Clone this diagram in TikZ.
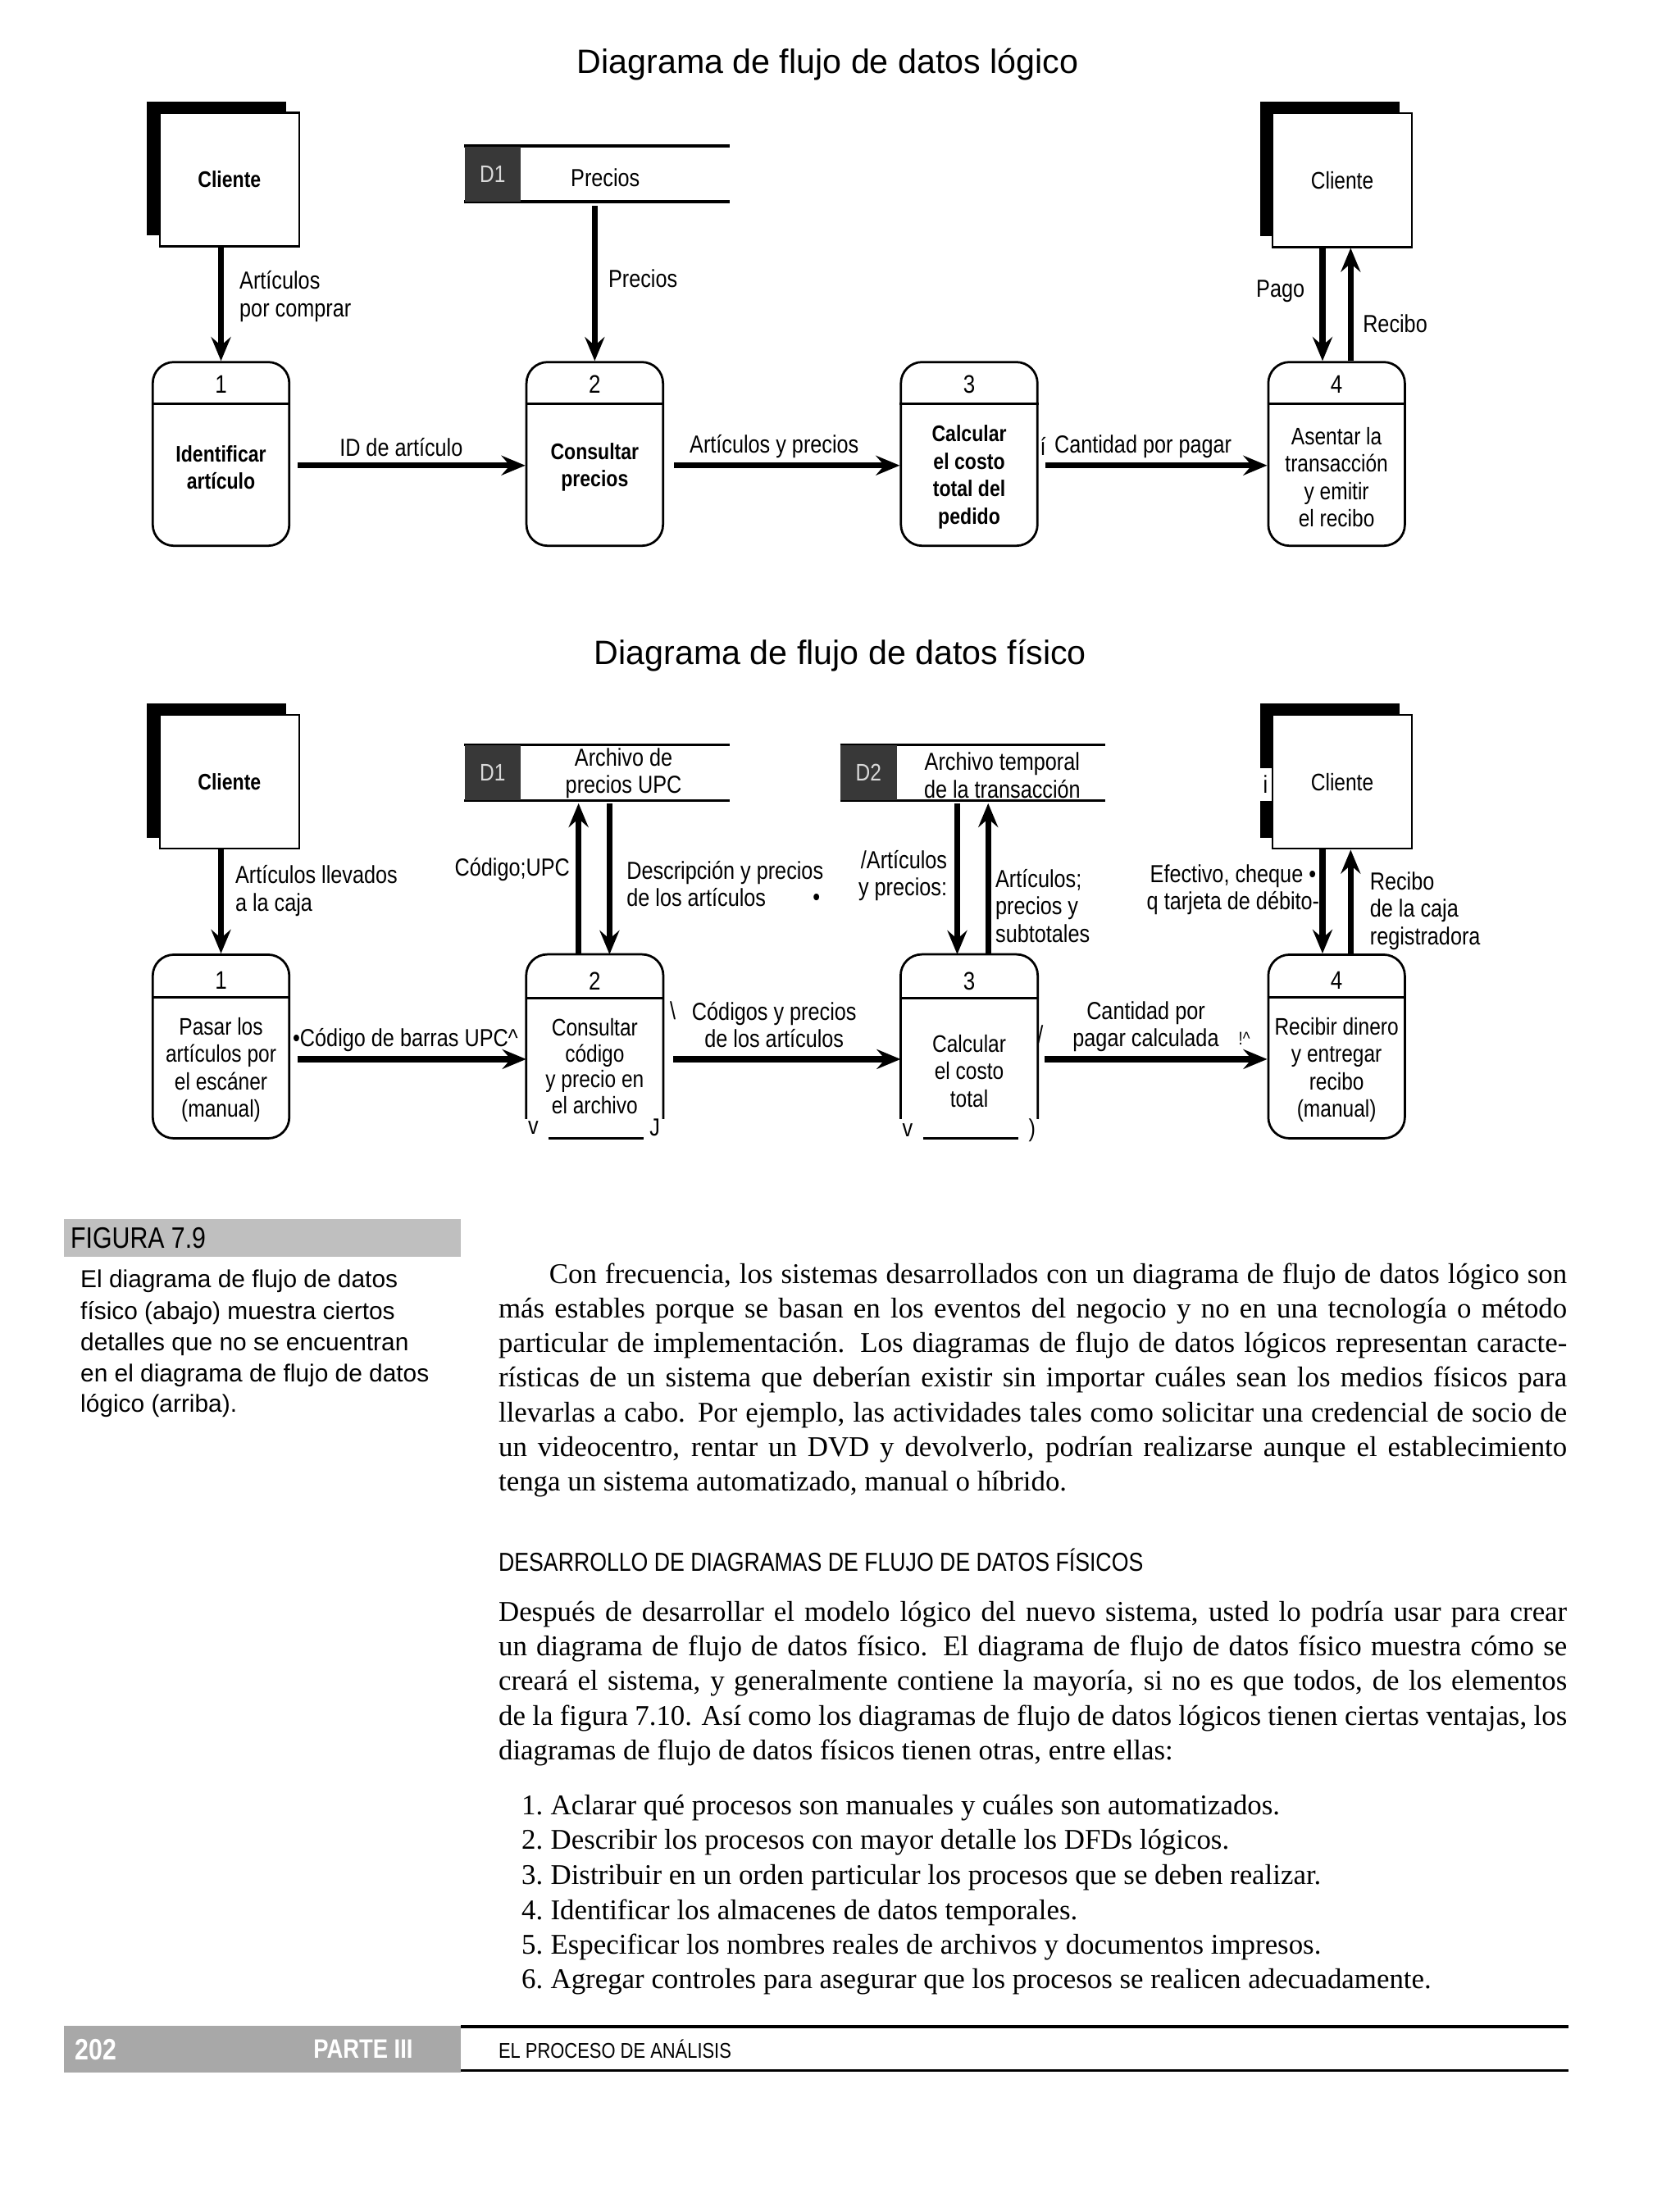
\documentclass[tikz,border=0pt]{standalone}
\usepackage{fontspec}
\setmainfont{Liberation Serif}
\newfontfamily\arialsf{Liberation Sans}
\newfontfamily\narrowsf{Liberation Sans}[FakeStretch=0.84]
\usetikzlibrary{arrows.meta}
\begin{document}
\begin{tikzpicture}[x=1pt,y=-1pt,
  proc/.style={draw, line width=1.6pt, rounded corners=15pt, minimum width=97pt, minimum height=130.5pt, inner sep=0pt},
  procnd/.style={minimum width=97pt, minimum height=130.5pt, inner sep=0pt},
  ent/.style={draw, line width=1.4pt, fill=white, minimum width=99pt, minimum height=95pt, inner sep=0pt},
  shad/.style={fill=black, minimum width=99pt, minimum height=95pt, inner sep=0pt},
  store/.style={minimum width=188pt, minimum height=39pt, inner sep=0pt},
  storeid/.style={fill=black!78, text=white!85!black, minimum width=40pt, minimum height=39pt, inner sep=0pt, font=\narrowsf\fontsize{17}{19}\selectfont},
  dflow/.style={line width=4.2pt, -{Stealth[length=17pt,width=14pt,inset=6pt]}},
  lbl/.style={font=\narrowsf\fontsize{17.5}{19.5}\selectfont, inner sep=0pt, align=center},
  num/.style={font=\narrowsf\fontsize{18}{20}\selectfont, inner sep=0pt},
  ptb/.style={font=\narrowsf\bfseries\fontsize{16}{19.5}\selectfont, inner sep=0pt, align=center},
  ptr/.style={font=\narrowsf\fontsize{17}{19.5}\selectfont, inner sep=0pt, align=center},
  divl/.style={line width=1.4pt},
  body/.style={anchor=base west, inner sep=0pt, font=\fontsize{20.3}{24.5}\selectfont},
  capt/.style={anchor=base west, inner sep=0pt, font=\arialsf\fontsize{17.4}{22}\selectfont},
  ttl/.style={font=\arialsf\fontsize{24}{28}\selectfont, inner sep=0pt}
]
\useasboundingbox[fill=white] (0,0) rectangle (1193,1568);

% ================= TOP: logical DFD =================
\node[ttl] (t1) at (588,46) {Diagrama de flujo de datos lógico};

% entities
\node[shad] (s1) at (154,119.5) {};
\node[ent, font=\narrowsf\bfseries\fontsize{16}{19}\selectfont] (c1) at (163,127.5) {Cliente};
\node[shad] (s2) at (945,120) {};
\node[ent, font=\narrowsf\fontsize{17}{19}\selectfont] (c2) at (953.5,128) {Cliente};

% store D1
\node[store] (d1) at (424,123.5) {};
\draw[line width=2pt] (d1.north west) -- (d1.north east);
\draw[line width=2pt] (d1.south west) -- (d1.south east);
\node[storeid] (d1id) at (350,123.5) {D1};
\node[lbl] (d1t) at (430,126) {Precios};

% processes
\node[proc] (p1) at (157,322.5) {};
\node[proc] (p2) at (422.5,322.5) {};
\node[proc] (p3) at (688.5,322.5) {};
\node[proc] (p4) at (949.5,322.5) {};
\foreach \p/\n in {p1/1,p2/2,p3/3,p4/4}{
  \draw[divl] ([yshift=-30.5pt]\p.north west) -- ([yshift=-30.5pt]\p.north east);
  \node[num] at ([yshift=-16.5pt]\p.north) {\n};
}
\node[ptb] (p1t) at (157,332) {Identificar\\artículo};
\node[ptb] (p2t) at (422.5,332) {Consultar\\precios};
\node[ptb] (p3t) at (688.5,339) {Calcular\\el costo\\total del\\pedido};
\node[ptr] (p4t) at (949.5,339) {Asentar la\\transacción\\y emitir\\el recibo};

% flows
\draw[dflow] (c1.south -| p1.north) -- (p1.north);
\draw[dflow] ([yshift=-3pt]d1.south -| p2.north) -- (p2.north);
\draw[dflow, shorten <=5pt] ([yshift=-8.2pt]p1.east) -- ([yshift=-8.2pt]p2.west);
\draw[dflow, shorten <=7pt] ([yshift=-8.2pt]p2.east) -- ([yshift=-8.2pt]p3.west);
\draw[dflow, shorten <=5pt] ([yshift=-8.2pt]p3.east) -- ([yshift=-8.2pt]p4.west);
\coordinate (p4a) at ([xshift=-10pt]p4.north);
\coordinate (p4b) at ([xshift=10pt]p4.north);
\draw[dflow] (p4a |- c2.south) -- (p4a);
\draw[dflow] (p4b) -- (p4b |- c2.south);

% labels
\node[lbl, align=left, anchor=west] at (170,210.5) {Artículos\\por comprar};
\node[lbl, anchor=west] at (432,198) {Precios};
\node[lbl] at (285,317.5) {ID de artículo};
\node[lbl] at (550,317) {Artículos y precios};
\node[lbl] at (741,317) {í};
\node[lbl] at (812,317) {Cantidad por pagar};
\node[lbl, anchor=east] at (927,207) {Pago};
\node[lbl, anchor=west] at (968,230) {Recibo};

% ================= BOTTOM: physical DFD =================
\node[ttl] (t2) at (597,466) {Diagrama de flujo de datos físico};

\node[shad] (s3) at (154,547.5) {};
\node[ent, font=\narrowsf\bfseries\fontsize{16}{19}\selectfont] (c3) at (163,555.5) {Cliente};
\node[shad] (s4) at (945,547.5) {};
\fill[white] (893,546) rectangle (905,569);
\node[ent, font=\narrowsf\fontsize{17}{19}\selectfont] (c4) at (953.5,555.5) {Cliente};
\node[lbl] at (899,557) {i};

% stores
\node[store] (d1b) at (424,549) {};
\draw[line width=2pt] (d1b.north west) -- (d1b.north east);
\draw[line width=2pt] (d1b.south west) -- (d1b.south east);
\node[storeid] (d1bid) at (350,549) {D1};
\node[lbl] (d1bt) at (443,549.5) {Archivo de\\precios UPC};

\node[store] (d2) at (691,549) {};
\draw[line width=2pt] (d2.north west) -- (d2.north east);
\draw[line width=2pt] (d2.south west) -- (d2.south east);
\node[storeid] (d2id) at (617,549) {D2};
\node[lbl] (d2t) at (712,551) {Archivo temporal\\de la transacción};

% processes
\node[proc] (q1) at (157,743.5) {};
\node[procnd] (q2) at (422.5,743.5) {};
\node[procnd] (q3) at (688.5,743.5) {};
\node[proc] (q4) at (949.5,743.5) {};
\foreach \q in {q2,q3}{
  \draw[line width=1.6pt, rounded corners=15pt] ([yshift=14pt]\q.south west) |- (\q.north) -| ([yshift=14pt]\q.south east);
  \draw[line width=1.6pt] ([xshift=16pt]\q.south west) -- ([xshift=-14pt]\q.south east);
}
\foreach \p/\n in {q1/1,q2/2,q3/3,q4/4}{
  \draw[divl] ([yshift=-31pt]\p.north west) -- ([yshift=-31pt]\p.north east);
  \node[num] at ([yshift=-19pt]\p.north) {\n};
}
\node[lbl] at ([xshift=5pt,yshift=8pt]q2.south west) {v};
\node[lbl] at ([xshift=-6pt,yshift=8pt]q2.south east) {J};
\node[lbl] at ([xshift=5pt,yshift=6pt]q3.south west) {v};
\node[lbl] at ([xshift=-4pt,yshift=6pt]q3.south east) {)};

\node[ptr] (q1t) at (157,760) {Pasar los\\artículos por\\el escáner\\(manual)};
\node[ptr, font=\narrowsf\fontsize{17}{18.3}\selectfont] (q2t) at (422.5,757.5) {Consultar\\código\\y precio en\\el archivo};
\node[ptr] (q3t) at (688.5,761) {Calcular\\el costo\\total};
\node[ptr] (q4t) at (949.5,760) {Recibir dinero\\y entregar\\recibo\\(manual)};

% flows
\draw[dflow] (c3.south -| q1.north) -- (q1.north);
\draw[dflow, shorten <=5pt] ([yshift=-9pt]q1.east) -- ([yshift=-9pt]q2.west);
\draw[dflow, shorten <=7pt] ([yshift=-9pt]q2.east) -- ([yshift=-9pt]q3.west);
\draw[dflow, shorten <=5pt] ([yshift=-9pt]q3.east) -- ([yshift=-9pt]q4.west);
\coordinate (q2a) at ([xshift=-11.5pt]q2.north);
\coordinate (q2b) at ([xshift=10.5pt]q2.north);
\draw[dflow] (q2a) -- ([yshift=-2pt]q2a |- d1b.south);
\draw[dflow] ([yshift=-2pt]q2b |- d1b.south) -- (q2b);
\coordinate (q3a) at ([xshift=-8.5pt]q3.north);
\coordinate (q3b) at ([xshift=13.5pt]q3.north);
\draw[dflow] ([yshift=-2pt]q3a |- d2.south) -- (q3a);
\draw[dflow] (q3b) -- ([yshift=-2pt]q3b |- d2.south);
\coordinate (q4a) at ([xshift=-10pt]q4.north);
\coordinate (q4b) at ([xshift=10pt]q4.north);
\draw[dflow] (q4a |- c4.south) -- (q4a);
\draw[dflow] (q4b) -- (q4b |- c4.south);

% labels
\node[lbl, align=left, anchor=west] at (167,633) {Artículos llevados\\a la caja};
\node[lbl, anchor=east] at (405,618) {Código;UPC};
\node[lbl, align=left, anchor=west] at (445,628) {Descripción y precios\\de los artículos};
\node[lbl] at (580,639) {•};
\node[lbl, align=right, anchor=east] at (673,622) {/Artículos\\y precios:};
\node[lbl, align=left, anchor=west] at (707,643.5) {Artículos;\\precios y\\subtotales};
\node[lbl] at (876,632) {Efectivo, cheque •\\q tarjeta de débito-};
\node[lbl, align=left, anchor=west] at (973,647) {Recibo\\de la caja\\registradora};
\node[lbl] at (288,739) {•Código de barras UPC\textasciicircum};
\node[lbl] at (478,718) {\textbackslash};
\node[lbl] at (550,728) {Códigos y precios\\de los artículos};
\node[lbl] at (739,735) {/};
\node[lbl] at (814,729.5) {Cantidad por\\pagar calculada};
\node[lbl, font=\narrowsf\fontsize{13}{15}\selectfont] at (884,738) {!\textasciicircum};

% ================= CAPTION =================
\node[fill=gray!50, minimum width=282pt, minimum height=27pt, inner sep=0pt, anchor=north west] (fig) at (45,866) {};
\node[anchor=west, inner sep=0pt, font=\narrowsf\fontsize{21}{24}\selectfont] at ([xshift=5pt]fig.west) {FIGURA 7.9};
\node[capt] at (57,915) {El diagrama de flujo de datos};
\node[capt] at (57,937.5) {físico (abajo) muestra ciertos};
\node[capt] at (57,959.5) {detalles que no se encuentran};
\node[capt] at (57,981.5) {en el diagrama de flujo de datos};
\node[capt] at (57,1003.5) {lógico (arriba).};

% ================= BODY TEXT =================
\node[body] at (390,912) {\makebox[723pt][s]{Con frecuencia, los sistemas desarrollados con un diagrama de flujo de datos lógico son}};
\node[body] at (354,936.5) {\makebox[759pt][s]{más estables porque se basan en los eventos del negocio y no en una tecnología o método}};
\node[body] at (354,961) {\makebox[759pt][s]{particular de implementación. Los diagramas de flujo de datos lógicos representan caracte-}};
\node[body] at (354,985.5) {\makebox[759pt][s]{rísticas de un sistema que deberían existir sin importar cuáles sean los medios físicos para}};
\node[body] at (354,1010) {\makebox[759pt][s]{llevarlas a cabo. Por ejemplo, las actividades tales como solicitar una credencial de socio de}};
\node[body] at (354,1034.5) {\makebox[759pt][s]{un videocentro, rentar un DVD y devolverlo, podrían realizarse aunque el establecimiento}};
\node[body] at (354,1059) {tenga un sistema automatizado, manual o híbrido.};

\node[anchor=base west, inner sep=0pt, font=\narrowsf\fontsize{18.5}{20}\selectfont] at (354,1116) {DESARROLLO DE DIAGRAMAS DE FLUJO DE DATOS FÍSICOS};

\node[body] at (354,1152) {\makebox[759pt][s]{Después de desarrollar el modelo lógico del nuevo sistema, usted lo podría usar para crear}};
\node[body] at (354,1176.5) {\makebox[759pt][s]{un diagrama de flujo de datos físico. El diagrama de flujo de datos físico muestra cómo se}};
\node[body] at (354,1201) {\makebox[759pt][s]{creará el sistema, y generalmente contiene la mayoría, si no es que todos, de los elementos}};
\node[body] at (354,1225.5) {\makebox[759pt][s]{de la figura 7.10. Así como los diagramas de flujo de datos lógicos tienen ciertas ventajas, los}};
\node[body] at (354,1250) {diagramas de flujo de datos físicos tienen otras, entre ellas:};

\foreach \y/\n/\t in {
  1289/1./{Aclarar qué procesos son manuales y cuáles son automatizados.},
  1314/2./{Describir los procesos con mayor detalle los DFDs lógicos.},
  1339/3./{Distribuir en un orden particular los procesos que se deben realizar.},
  1364/4./{Identificar los almacenes de datos temporales.},
  1388.5/5./{Especificar los nombres reales de archivos y documentos impresos.},
  1413/6./{Agregar controles para asegurar que los procesos se realicen adecuadamente.}}{
  \node[body, anchor=base east] at (386,\y) {\n};
  \node[body] at (391,\y) {\t};
}

% ================= FOOTER =================
\node[fill=gray!68, minimum width=282pt, minimum height=33pt, inner sep=0pt, anchor=north west] (ft) at (45,1439) {};
\node[text=white, inner sep=0pt, font=\narrowsf\bfseries\fontsize{21}{24}\selectfont] at (68,1456) {202};
\node[text=white, inner sep=0pt, font=\narrowsf\bfseries\fontsize{19}{24}\selectfont] at (258,1456) {PARTE III};
\coordinate (fte) at (1114,1440);
\coordinate (ftb) at (1114,1471);
\draw[line width=2.4pt] (ft.north east |- fte) -- (fte);
\draw[line width=2pt] (ft.south east |- ftb) -- (ftb);
\node[anchor=base west, inner sep=0pt, font=\narrowsf\fontsize{15.2}{17}\selectfont] at (354,1462) {EL PROCESO DE ANÁLISIS};
\end{tikzpicture}
\end{document}
